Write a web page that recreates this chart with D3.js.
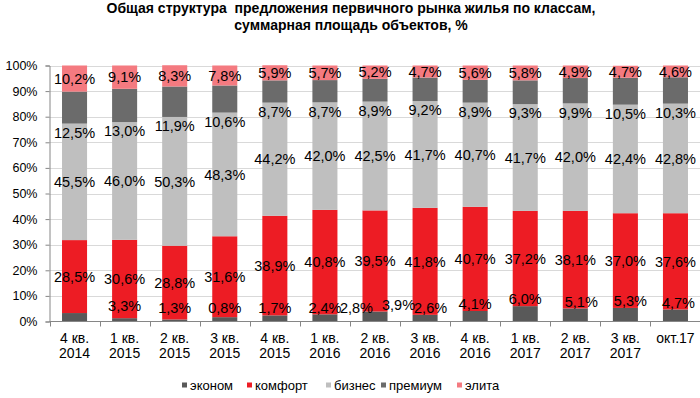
<!DOCTYPE html>
<html><head><meta charset="utf-8">
<script src="https://cdn.jsdelivr.net/npm/d3@7"></script>
<style>
html,body{margin:0;padding:0;background:#fff;}
svg{display:block;font-family:Arial,"Liberation Sans",sans-serif;}
</style></head>
<body>
<svg id="chart" width="700" height="398"></svg>
<script>
// ---- data ----
const categories = [["4 кв.","2014"],["1 кв.","2015"],["2 кв.","2015"],["3 кв.","2015"],["4 кв.","2015"],["1 кв.","2016"],["2 кв.","2016"],["3 кв.","2016"],["4 кв.","2016"],["1 кв.","2017"],["2 кв.","2017"],["3 кв.","2017"],["окт.17"]];
const seriesNames = ["эконом","комфорт","бизнес","премиум","элита"];
const econom  = [3.3, 1.3, 0.8, 1.7, 2.4, 2.8, 3.9, 2.6, 4.1, 6.0, 5.1, 5.3, 4.7];
const comfort = [28.5, 30.6, 28.8, 31.6, 38.9, 40.8, 39.5, 41.8, 40.7, 37.2, 38.1, 37.0, 37.6];
const business= [45.5, 46.0, 50.3, 48.3, 44.2, 42.0, 42.5, 41.7, 40.7, 41.7, 42.0, 42.4, 42.8];
const premium = [12.5, 13.0, 11.9, 10.6, 8.7, 8.7, 8.9, 9.2, 8.9, 9.3, 9.9, 10.5, 10.3];
const elite   = [10.2, 9.1, 8.3, 7.8, 5.9, 5.7, 5.2, 4.7, 5.6, 5.8, 4.9, 4.7, 4.6];
const yTicks = [0,10,20,30,40,50,60,70,80,90,100];

// label layout (as in the original chart: econom labels drift to the right)
const economLabelShift = [1,1,1,1,1,0.63,0.47,0.11,0,0,0.12,0.1,0.06];

const colors = ["#595959","#ED1C24","#BFBFBF","#6B6B6B","#F47A80"];
const seriesValues = [econom, comfort, business, premium, elite];

const svg = d3.select("#chart");
const fmt = v => d3.format(".1f")(v).replace(".", ",") + "%";

const x = d3.scaleBand().domain(d3.range(categories.length)).range([49.5, 700.5]).paddingInner(0.5).paddingOuter(0.25);
const y = d3.scaleLinear().domain([0,100]).range([321.5, 65.5]);

// title
const title = svg.append("text").attr("text-anchor","middle").attr("font-weight","bold").attr("font-size",14).attr("fill","#000").style("white-space","pre");
title.append("tspan").attr("x",351).attr("y",13).text("Общая структура  предложения первичного рынка жилья по классам,");
title.append("tspan").attr("x",351).attr("y",30).text("суммарная площадь объектов, %");

// gridlines
svg.append("g").selectAll("line").data(yTicks.filter(d=>d>0)).join("line")
  .attr("x1",49.5).attr("x2",700).attr("y1",d=>Math.round(y(d))+0.5).attr("y2",d=>Math.round(y(d))+0.5)
  .attr("stroke","#D9D9D9").attr("stroke-width",1);

// stack
const rows = categories.map((c,i)=>{const r={i}; seriesNames.forEach((s,k)=>r[s]=seriesValues[k][i]); return r;});
const stack = d3.stack().keys(seriesNames)(rows);

svg.append("g").selectAll("g").data(stack).join("g").attr("fill",(d,k)=>colors[k])
  .selectAll("rect").data(d=>d).join("rect")
  .attr("x",d=>x(d.data.i)).attr("width",x.bandwidth())
  .attr("y",d=>y(d[1])).attr("height",d=>y(d[0])-y(d[1]));

// axes
const yAxis = svg.append("g").attr("transform","translate(49.5,0)")
  .call(d3.axisLeft(y).tickValues(yTicks).tickFormat(d=>d+"%").tickSize(4).tickPadding(8));
yAxis.select(".domain").attr("stroke","#868686");
yAxis.selectAll(".tick line").attr("stroke","#868686");
yAxis.selectAll("text").attr("font-size",12.5).attr("fill","#000").attr("font-family","Arial,'Liberation Sans',sans-serif");

const xAxisG = svg.append("g");
xAxisG.append("line").attr("x1",49.5).attr("x2",700.5).attr("y1",321.5).attr("y2",321.5).attr("stroke","#868686");
xAxisG.selectAll("line.t").data(d3.range(categories.length+1)).join("line").attr("class","t")
  .attr("x1",i=>Math.round(49.5 + i*x.step())+0.5).attr("x2",i=>Math.round(49.5 + i*x.step())+0.5)
  .attr("y1",321.5).attr("y2",326.5).attr("stroke","#868686");
const xl = xAxisG.selectAll("text").data(categories).join("text")
  .attr("text-anchor","middle").attr("font-size",14).attr("fill","#000");
xl.each(function(c,i){
  const t = d3.select(this); const cx = x(i)+x.bandwidth()/2;
  c.forEach((line,j)=>t.append("tspan").attr("x",cx).attr("y",342.5 + j*15.5).text(line));
});

// data labels
const lab = svg.append("g").attr("font-size",14.5).attr("fill","#000").attr("text-anchor","middle");
stack.forEach((layer,k)=>{
  layer.forEach((d,i)=>{
    const v = seriesValues[k][i];
    let cx = x(i)+x.bandwidth()/2, cy;
    if(k===0){
      cx = x(i)+x.bandwidth()/2 + economLabelShift[i]*x.step();
      cy = Math.min(y(v)-7, 308);
    } else if(k===3){
      cy = y(d[0]) + 9;
    } else {
      cy = (y(d[0])+y(d[1]))/2;
    }
    lab.append("text").attr("x",cx).attr("y",cy).attr("dy","0.36em").text(fmt(v));
  });
});

// legend
const legX = [182, 247, 326, 381, 457];
const leg = svg.append("g");
seriesNames.forEach((s,k)=>{
  leg.append("rect").attr("x",legX[k]).attr("y",382.5).attr("width",5).attr("height",5).attr("fill",colors[k]);
  leg.append("text").attr("x",legX[k]+8).attr("y",385).attr("dy","0.36em").attr("font-size",13).attr("fill","#000").text(s);
});
</script>
</body></html>
